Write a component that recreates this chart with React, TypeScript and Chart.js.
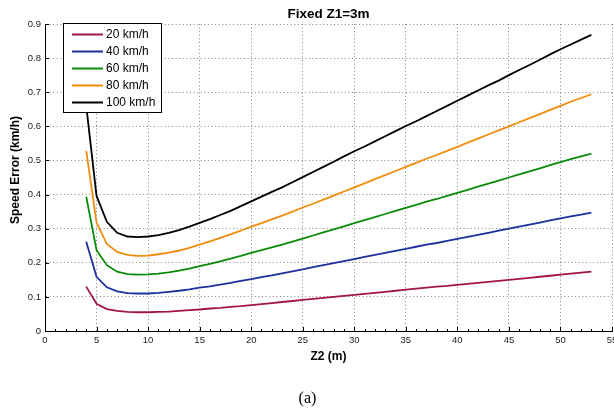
import React, { useEffect, useRef } from 'react';
import { Chart, registerables } from 'chart.js';

Chart.register(...registerables);

const Z2 = [4, 5, 6, 7, 8, 9, 10, 11, 12, 13, 14, 15, 16, 17, 18, 19, 20, 21, 22, 23, 24, 25, 26, 27, 28, 29, 30, 31, 32, 33, 34, 35, 36, 37, 38, 39, 40, 41, 42, 43, 44, 45, 46, 47, 48, 49, 50, 51, 52, 53];

const ERR_20 = [0.130, 0.080, 0.064, 0.059, 0.056, 0.055, 0.055, 0.056, 0.057, 0.059, 0.061, 0.063, 0.066, 0.068, 0.071, 0.073, 0.076, 0.079, 0.082, 0.085, 0.088, 0.091, 0.094, 0.097, 0.100, 0.103, 0.106, 0.109, 0.112, 0.115, 0.118, 0.121, 0.124, 0.127, 0.130, 0.132, 0.135, 0.138, 0.141, 0.144, 0.147, 0.150, 0.153, 0.156, 0.159, 0.162, 0.165, 0.168, 0.171, 0.174];
const ERR_40 = [0.262, 0.159, 0.128, 0.116, 0.111, 0.110, 0.110, 0.112, 0.115, 0.118, 0.122, 0.127, 0.131, 0.136, 0.141, 0.147, 0.152, 0.158, 0.163, 0.169, 0.175, 0.181, 0.187, 0.193, 0.199, 0.205, 0.211, 0.217, 0.223, 0.229, 0.235, 0.241, 0.247, 0.253, 0.258, 0.264, 0.270, 0.276, 0.282, 0.288, 0.294, 0.300, 0.306, 0.312, 0.318, 0.324, 0.330, 0.336, 0.341, 0.347];
const ERR_60 = [0.394, 0.237, 0.193, 0.174, 0.167, 0.165, 0.166, 0.168, 0.172, 0.177, 0.183, 0.190, 0.197, 0.204, 0.212, 0.220, 0.229, 0.237, 0.245, 0.253, 0.262, 0.271, 0.280, 0.289, 0.298, 0.307, 0.316, 0.325, 0.334, 0.343, 0.352, 0.361, 0.370, 0.379, 0.387, 0.396, 0.405, 0.414, 0.423, 0.432, 0.441, 0.450, 0.459, 0.468, 0.477, 0.486, 0.495, 0.504, 0.512, 0.520];
const ERR_80 = [0.528, 0.318, 0.255, 0.232, 0.223, 0.220, 0.221, 0.225, 0.230, 0.236, 0.244, 0.253, 0.263, 0.273, 0.283, 0.294, 0.306, 0.316, 0.327, 0.338, 0.350, 0.362, 0.373, 0.385, 0.397, 0.409, 0.421, 0.433, 0.445, 0.457, 0.469, 0.481, 0.493, 0.505, 0.516, 0.528, 0.540, 0.552, 0.564, 0.576, 0.588, 0.600, 0.612, 0.624, 0.636, 0.648, 0.660, 0.672, 0.683, 0.694];
const ERR_100 = [0.660, 0.396, 0.320, 0.288, 0.277, 0.275, 0.277, 0.281, 0.288, 0.296, 0.306, 0.317, 0.328, 0.340, 0.352, 0.366, 0.380, 0.394, 0.408, 0.421, 0.436, 0.451, 0.466, 0.481, 0.496, 0.512, 0.527, 0.541, 0.556, 0.571, 0.586, 0.601, 0.615, 0.630, 0.645, 0.660, 0.675, 0.690, 0.705, 0.720, 0.734, 0.750, 0.765, 0.780, 0.795, 0.811, 0.826, 0.840, 0.854, 0.868];

const SERIES_LABELS = ['20 km/h', '40 km/h', '60 km/h', '80 km/h', '100 km/h'];
const SERIES_VALUES = [ERR_20, ERR_40, ERR_60, ERR_80, ERR_100];
const SERIES_COLORS = ['#a3173d', '#1c2f9c', '#0a8a0a', '#f28c0c', '#000000'];

const X_MIN = 0;
const X_MAX = 55;
const Y_MIN = 0;
const Y_MAX = 0.9;

const TITLE = 'Fixed Z1=3m';
const X_TITLE = 'Z2 (m)';
const Y_TITLE = 'Speed Error (km/h)';
const CAPTION = '(a)';

const FONT = '"Liberation Sans", Arial, Helvetica, sans-serif';

const decorPlugin = {
  id: 'decor',
  afterDraw(chart: any) {
    const { ctx, chartArea: ca, scales } = chart;
    const x = scales.x;
    const y = scales.y;
    ctx.save();

    // inward tick marks
    ctx.strokeStyle = '#000';
    ctx.lineWidth = 1;
    ctx.beginPath();
    for (let v = X_MIN; v <= X_MAX; v += 1) {
      const px = Math.round(x.getPixelForValue(v)) + 0.5;
      const len = v % 5 === 0 ? 4 : 2;
      ctx.moveTo(px, ca.bottom);
      ctx.lineTo(px, ca.bottom - len);
    }
    for (let i = 0; i <= 9; i++) {
      const v = i / 10;
      const py = Math.round(y.getPixelForValue(v)) + 0.5;
      ctx.moveTo(ca.left, py);
      ctx.lineTo(ca.left + 4, py);
    }
    ctx.stroke();

    // legend box
    const lx = 63.5, ly = 23.5, lw = 98, lh = 89;
    ctx.fillStyle = '#fff';
    ctx.fillRect(lx, ly, lw, lh);
    ctx.strokeStyle = '#000';
    ctx.lineWidth = 1;
    ctx.strokeRect(lx, ly, lw, lh);
    ctx.font = `12px ${FONT}`;
    ctx.textBaseline = 'middle';
    ctx.textAlign = 'left';
    chart.data.datasets.forEach((ds: any, i: number) => {
      const ry = 34.5 + i * 17;
      ctx.strokeStyle = ds.borderColor;
      ctx.lineWidth = 2;
      ctx.beginPath();
      ctx.moveTo(72, ry);
      ctx.lineTo(103, ry);
      ctx.stroke();
      ctx.fillStyle = '#000';
      ctx.fillText(ds.label, 106, ry + 0.5);
    });

    // titles
    ctx.fillStyle = '#000';
    ctx.textAlign = 'center';
    ctx.textBaseline = 'alphabetic';
    ctx.font = `bold 13.5px ${FONT}`;
    ctx.fillText(TITLE, (ca.left + ca.right) / 2, 17.5);

    ctx.font = `bold 12px ${FONT}`;
    ctx.fillText(X_TITLE, (ca.left + ca.right) / 2, 360);

    ctx.save();
    ctx.translate(19, 170);
    ctx.rotate(-Math.PI / 2);
    ctx.textBaseline = 'alphabetic';
    ctx.fillText(Y_TITLE, 0, 0);
    ctx.restore();

    ctx.font = `16px "Liberation Serif", "Times New Roman", serif`;
    ctx.fillText(CAPTION, 307.5, 403);

    ctx.restore();
  },
};

export default function App() {
  const ref = useRef<HTMLCanvasElement | null>(null);

  useEffect(() => {
    if (!ref.current) return;
    const datasets = SERIES_VALUES.map((vals, i) => ({
      label: SERIES_LABELS[i],
      data: Z2.map((z, j) => ({ x: z, y: vals[j] })),
      borderColor: SERIES_COLORS[i],
      backgroundColor: SERIES_COLORS[i],
      borderWidth: 1.8,
      pointRadius: 0,
      tension: 0,
      fill: false,
    }));

    const gridColor = (v: number, step: number) => (Math.abs(v) < 1e-9 ? 'rgba(0,0,0,0)' : (Math.abs(v / step - Math.round(v / step)) < 1e-6 ? '#808080' : 'rgba(0,0,0,0)'));

    const chart = new Chart(ref.current, {
      type: 'line',
      data: { datasets },
      plugins: [decorPlugin],
      options: {
        responsive: false,
        animation: false,
        devicePixelRatio: 1,
        layout: { padding: { top: 24, right: 2, left: 0, bottom: 67 } },
        plugins: {
          legend: { display: false },
          title: { display: false },
          tooltip: { enabled: false },
        },
        scales: {
          x: {
            type: 'linear',
            min: X_MIN,
            max: X_MAX,
            afterFit: (s: any) => {
              s.height = 20;
              s.paddingLeft = 0;
              s.paddingRight = 0;
            },
            ticks: {
              stepSize: 1,
              autoSkip: false,
              maxRotation: 0,
              padding: 4,
              color: '#222',
              font: { family: FONT, size: 9.5 },
              callback: (v: any) => (Number(v) % 5 === 0 ? String(v) : ''),
            },
            grid: {
              drawTicks: false,
              lineWidth: 1,
              color: (c: any) => gridColor(c.tick ? c.tick.value : 0, 5),
            },
            border: { display: true, color: '#000', width: 1, dash: [1, 2.6] },
          },
          y: {
            type: 'linear',
            min: Y_MIN,
            max: Y_MAX,
            afterFit: (s: any) => {
              s.width = 45;
              s.paddingTop = 0;
              s.paddingBottom = 0;
            },
            ticks: {
              stepSize: 0.1,
              padding: 4,
              color: '#222',
              font: { family: FONT, size: 9.5 },
              callback: (v: any) => (Number(v) === 0 ? '0' : Number(v).toFixed(1)),
            },
            grid: {
              drawTicks: false,
              lineWidth: 1,
              color: (c: any) => gridColor(c.tick ? c.tick.value : 0, 0.1),
            },
            border: { display: true, color: '#000', width: 1, dash: [1, 2.6] },
          },
        },
      },
    } as any);

    return () => chart.destroy();
  }, []);

  return (
    <div style={{ position: 'fixed', left: 0, top: 0, width: 614, height: 418, background: '#fff' }}>
      <canvas ref={ref} width={614} height={418} style={{ display: 'block', width: 614, height: 418 }} />
    </div>
  );
}
